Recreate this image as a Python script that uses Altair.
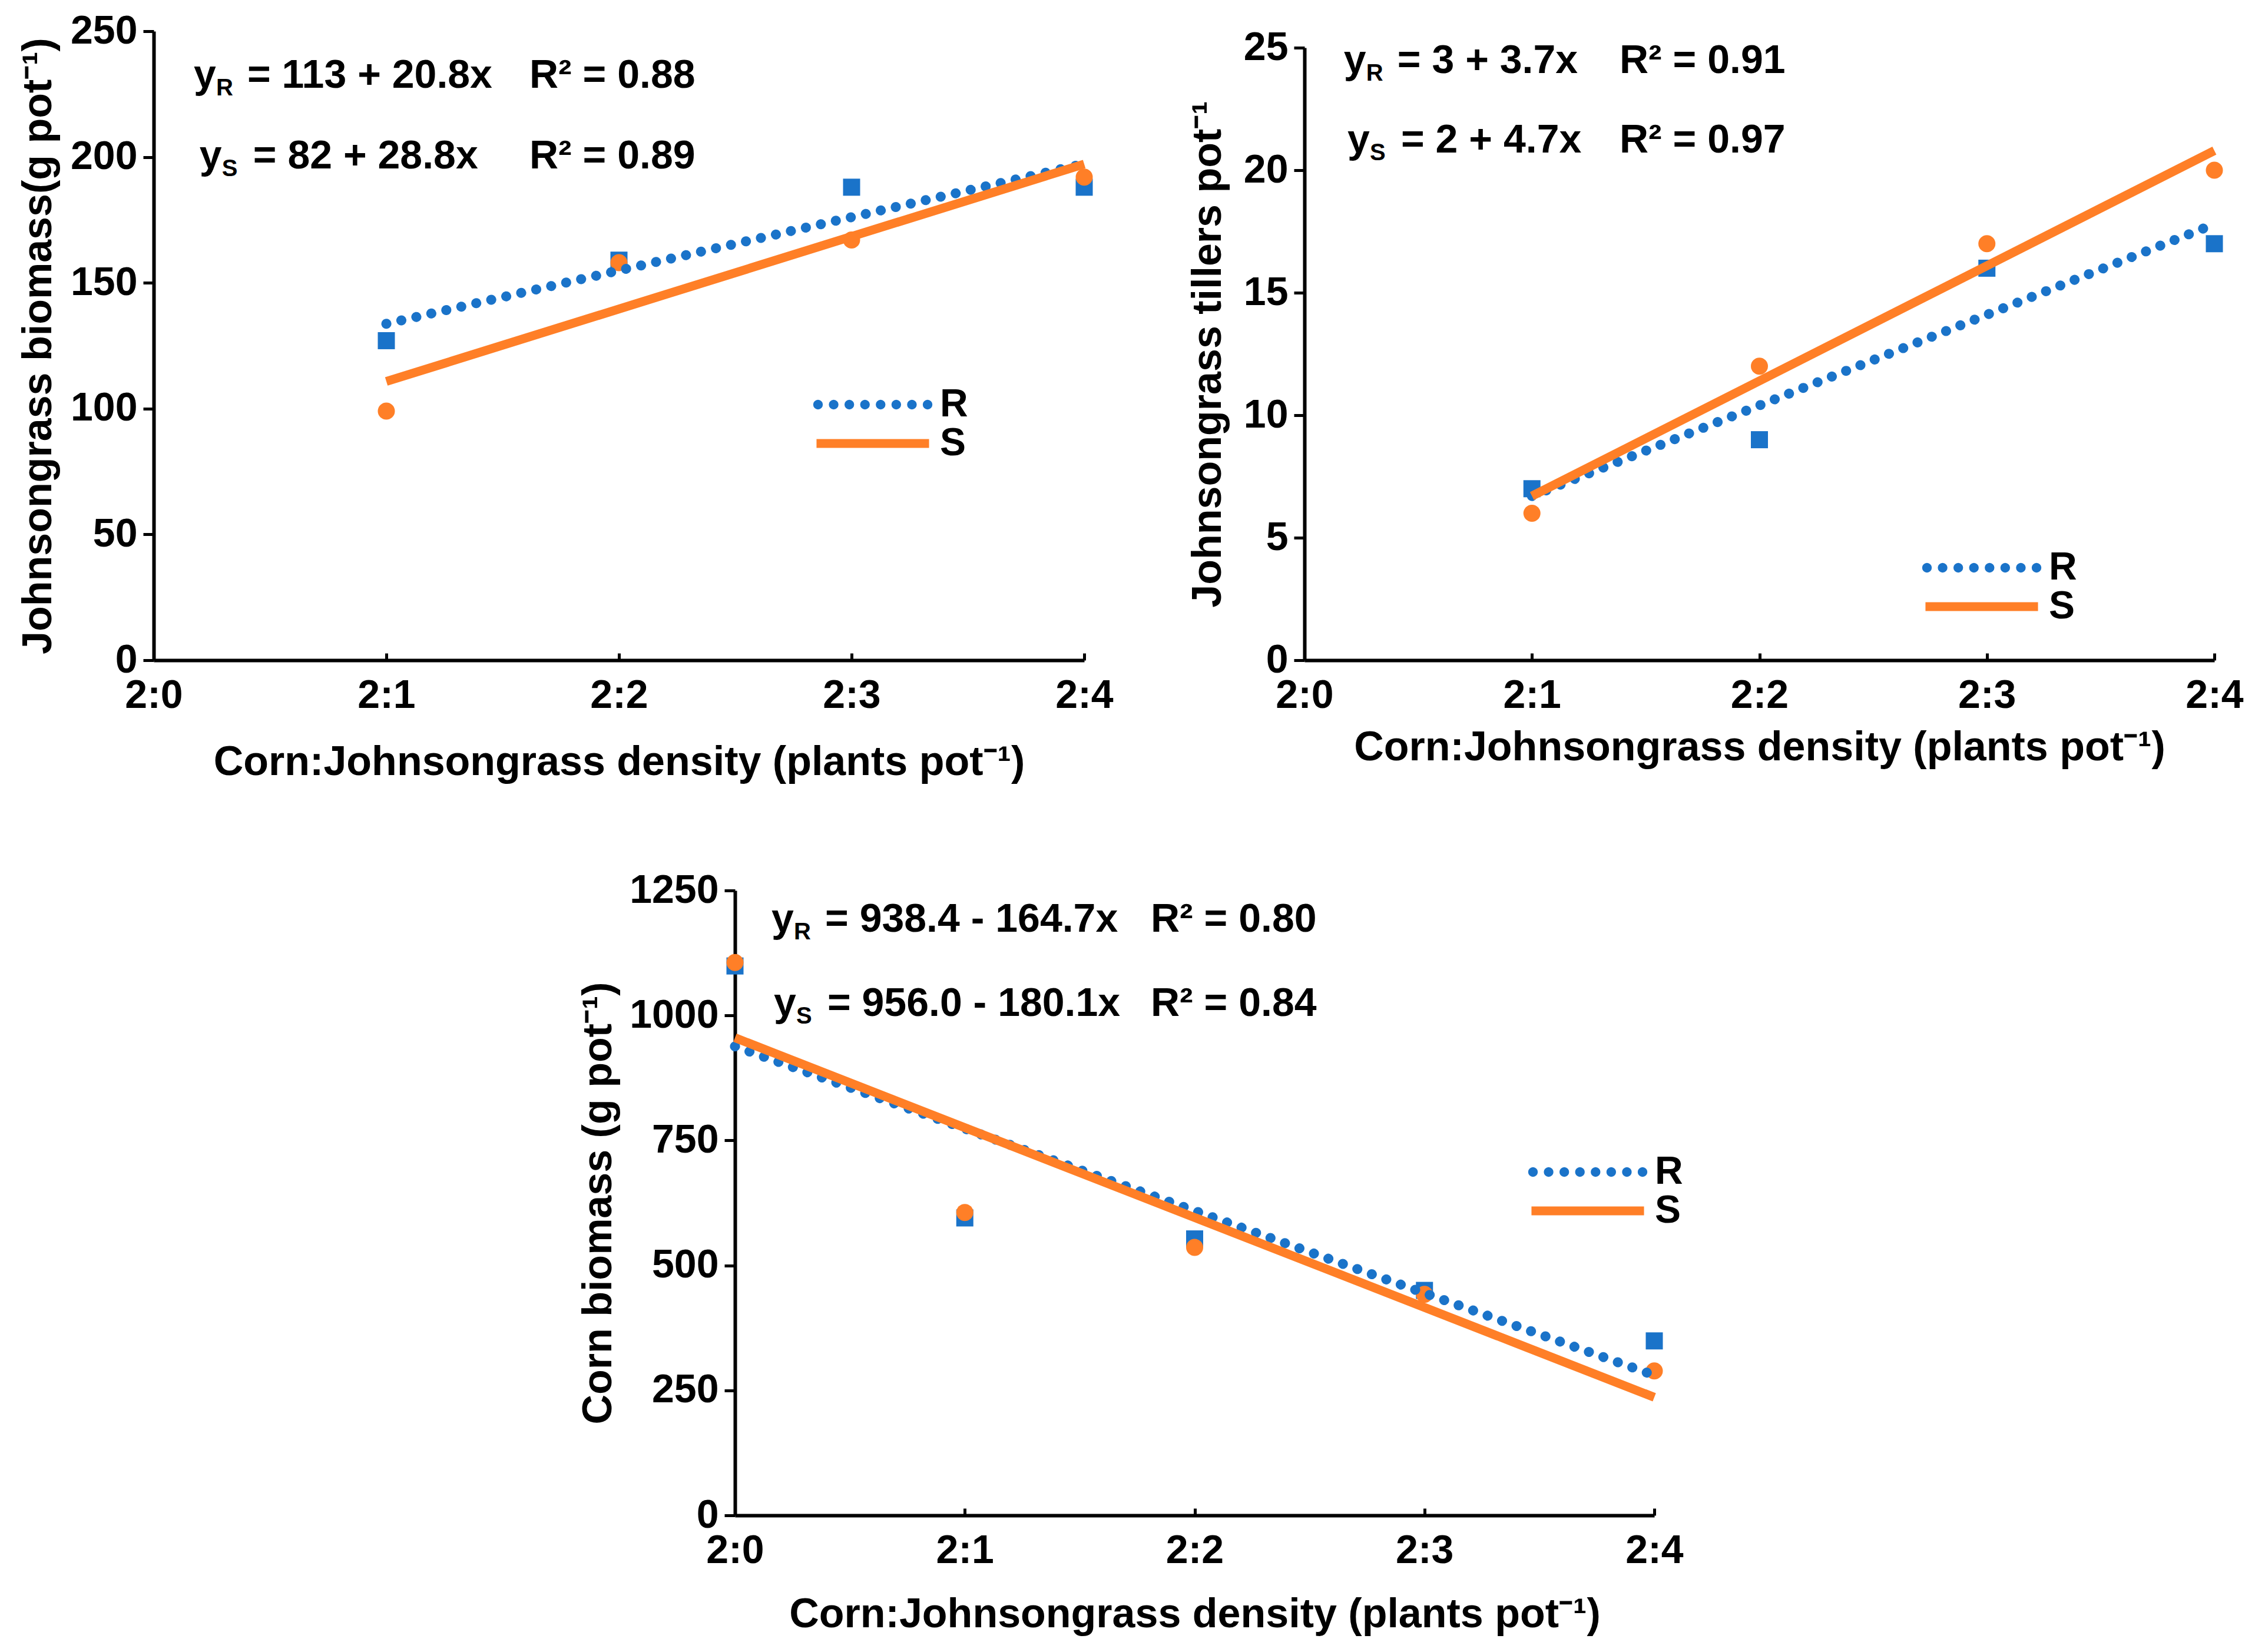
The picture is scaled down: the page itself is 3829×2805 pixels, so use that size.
import math
import altair as alt
import pandas as pd

# ---------------- data ----------------
density_labels = ["2:0", "2:1", "2:2", "2:3", "2:4"]
series_names = ["R", "S"]
series_colors = ["#1A73C9", "#FF7F27"]

jg_x = [1, 2, 3, 4]
jg_biomass_R = [127, 159, 188, 188]
jg_biomass_S = [99, 158, 167, 192]

tillers_x = [1, 2, 3, 4]
tillers_R = [7, 9, 16, 17]
tillers_S = [6, 12, 17, 20]

corn_x = [0, 1, 2, 3, 4]
corn_R = [1099, 595, 553, 450, 349]
corn_S = [1106, 606, 536, 442, 289]

biomass_eq = ["= 113 + 20.8x", "= 82 + 28.8x"]
biomass_r2 = ["R² = 0.88", "R² = 0.89"]
tillers_eq = ["= 3 + 3.7x", "= 2 + 4.7x"]
tillers_r2 = ["R² = 0.91", "R² = 0.97"]
corn_eq = ["= 938.4 - 164.7x", "= 956.0 - 180.1x"]
corn_r2 = ["R² = 0.80", "R² = 0.84"]

biomass_ticks = [0, 50, 100, 150, 200, 250]
tillers_ticks = [0, 5, 10, 15, 20, 25]
corn_ticks = [0, 250, 500, 750, 1000, 1250]

x_title = "Corn:Johnsongrass density (plants pot⁻¹)"
y_titles = ["Johnsongrass biomass(g pot⁻¹)", "Johnsongrass tillers pot⁻¹", "Corn biomass (g pot⁻¹)"]

# ---------------- style ----------------
FONT = "Liberation Sans, Arial, Helvetica, sans-serif"
BLACK = "#000000"
LEG_FS = 66          # legend label size; also the legend row height
label_expr = "[" + ",".join(f"'{s}'" for s in density_labels) + "][datum.value]"


def dot_path(n=8, half=4.77, r=0.42, k=16):
    """Legend symbol: a row of small filled round dots (unit symbol coordinates)."""
    parts = []
    for i in range(n):
        cx = -half + i * (2 * half / (n - 1))
        pts = [(cx + r * math.cos(2 * math.pi * j / k), r * math.sin(2 * math.pi * j / k))
               for j in range(k)]
        parts.append("M" + "L".join(f"{a:.3f},{b:.3f}" for a, b in pts) + "Z")
    return "".join(parts)


LEGEND_SHAPES = [dot_path(), "M-4.9,-0.385H4.9V0.385H-4.9Z"]


def panel(xs, r_vals, s_vals, ticks, y_title, eqs, r2s, W, H, eq_x, eq_y, r2_x,
          leg_cx, leg_row_y, y_title_pad, x_title_pad, y_top=0):
    df = pd.DataFrame({
        "x": list(xs) + list(xs),
        "y": list(r_vals) + list(s_vals),
        "series": ["R"] * len(xs) + ["S"] * len(xs),
    })
    eq_df = pd.DataFrame({"ex": eq_x, "ey": eq_y, "rx": [r2_x, r2_x],
                          "sub": series_names, "eq": eqs, "r2": r2s})
    xs_scale = alt.Scale(domain=[0, 4], nice=False, zero=False)
    ys_scale = alt.Scale(domain=[ticks[0], ticks[-1]], nice=False, zero=True,
                         range=[H, y_top])

    x_main = alt.X("x:Q", scale=xs_scale, axis=alt.Axis(
        orient="bottom", values=list(range(len(density_labels))), labelExpr=label_expr,
        ticks=False, tickSize=0, labelPadding=26, labelFlush=False, labelOverlap=False,
        title=x_title, titlePadding=x_title_pad))
    x_ticks = alt.X("x:Q", scale=xs_scale, axis=alt.Axis(
        orient="top", offset=-H, values=[1, 2, 3, 4], labels=False, domain=False,
        ticks=True, tickSize=12, tickWidth=5, tickColor=BLACK, title=None))
    x_none = alt.X("x:Q", scale=xs_scale, axis=None)
    y_axis = alt.Axis(values=ticks, format="d", tickSize=18, labelPadding=10, title=y_title,
                      titlePadding=y_title_pad, labelOverlap=False, labelFlush=False)

    def Y(field):
        return alt.Y(field, scale=ys_scale, axis=y_axis)

    leg = alt.Legend(title=None, orient="none", legendX=leg_cx - LEG_FS / 2,
                     legendY=leg_row_y - LEG_FS / 2,
                     symbolSize=1521, symbolStrokeWidth=0,
                     labelFont=FONT, labelFontSize=LEG_FS, labelFontWeight="bold",
                     labelColor=BLACK, labelOffset=81, rowPadding=0,
                     padding=0, symbolOpacity=1)

    base = alt.Chart(df)
    pts_R = base.transform_filter(alt.datum.series == "R").mark_square(
        size=841, color=series_colors[0], opacity=1).encode(x=x_main, y=Y("y:Q"))
    pts_S = base.transform_filter(alt.datum.series == "S").mark_circle(
        size=841, color=series_colors[1], opacity=1).encode(x=x_ticks, y=Y("y:Q"))
    line_R = base.transform_filter(alt.datum.series == "R").transform_regression(
        "x", "y").mark_line(strokeWidth=17, strokeCap="round", strokeDash=[0.1, 26],
                             color=series_colors[0]).encode(x=x_none, y=Y("y:Q"))
    line_S = base.transform_filter(alt.datum.series == "S").transform_regression(
        "x", "y").mark_line(strokeWidth=15, color=series_colors[1]).encode(
        x=x_none, y=Y("y:Q"))
    # legend carrier (draws nothing; the legend comes from its scales)
    legend_layer = base.transform_filter("false").mark_point(
        filled=True, size=1521, opacity=1).encode(
        x=x_none, y=Y("y:Q"),
        color=alt.Color("series:N", scale=alt.Scale(domain=series_names, range=series_colors),
                        legend=leg),
        shape=alt.Shape("series:N", scale=alt.Scale(domain=series_names, range=LEGEND_SHAPES),
                        legend=leg))

    txt = alt.Chart(eq_df)
    ex = alt.X("ex:Q", scale=xs_scale, axis=None)
    tstyle = dict(align="left", baseline="alphabetic", font=FONT, fontWeight="bold", color=BLACK)
    t_y = txt.mark_text(text="y", fontSize=68, **tstyle).encode(x=ex, y=Y("ey:Q"))
    t_sub = txt.mark_text(fontSize=40, dx=38, dy=13, **tstyle).encode(
        x=ex, y=Y("ey:Q"), text="sub:N")
    t_eq = txt.mark_text(fontSize=68, dx=91, **tstyle).encode(
        x=ex, y=Y("ey:Q"), text="eq:N")
    t_r2 = txt.mark_text(fontSize=68, **tstyle).encode(
        x=alt.X("rx:Q", scale=xs_scale, axis=None), y=Y("ey:Q"), text="r2:N")

    return alt.layer(pts_R, pts_S, line_R, line_S, legend_layer,
                     t_y, t_sub, t_eq, t_r2).resolve_axis(
        x="independent").properties(width=W, height=H)


tl = panel(jg_x, jg_biomass_R, jg_biomass_S, biomass_ticks, y_titles[0], biomass_eq, biomass_r2,
           1580, 1068, [0.172, 0.197], [227.5, 195.5], 1.615, 1221, 634, 18, 45)
tr = panel(tillers_x, tillers_R, tillers_S, tillers_ticks, y_titles[1], tillers_eq, tillers_r2,
           1545, 1068, [0.173, 0.189], [23.97, 20.72], 1.385, 1150, 883 + 28, 24, 20,
           y_top=28)
bt = panel(corn_x, corn_R, corn_S, corn_ticks, y_titles[2], corn_eq, corn_r2,
           1561, 1061, [0.159, 0.169], [1167.5, 999], 1.809, 1448, 478, 16, 40)

# empty view that indents the bottom panel so that it sits under the middle of the page
spacer = alt.Chart(pd.DataFrame({"v": [0]})).mark_point(opacity=0).properties(width=720, height=10)

top = alt.hconcat(tl, tr, spacing=125).resolve_scale(color="independent", shape="independent")
bottom = alt.hconcat(spacer, bt, spacing=0).resolve_scale(color="independent", shape="independent")
chart = alt.vconcat(top, bottom, spacing=149).resolve_scale(
    color="independent", shape="independent").properties(
    padding={"left": 22, "top": 11, "right": 10, "bottom": 10}, background="white"
).configure_view(stroke=None).configure_axis(
    grid=False, domainColor=BLACK, domainWidth=6, tickColor=BLACK, tickWidth=5,
    labelColor=BLACK, titleColor=BLACK, labelFont=FONT, titleFont=FONT,
    labelFontSize=68, titleFontSize=70, labelFontWeight="bold", titleFontWeight="bold")

chart.save("out.html", embed_options={"renderer": "svg", "actions": False})
